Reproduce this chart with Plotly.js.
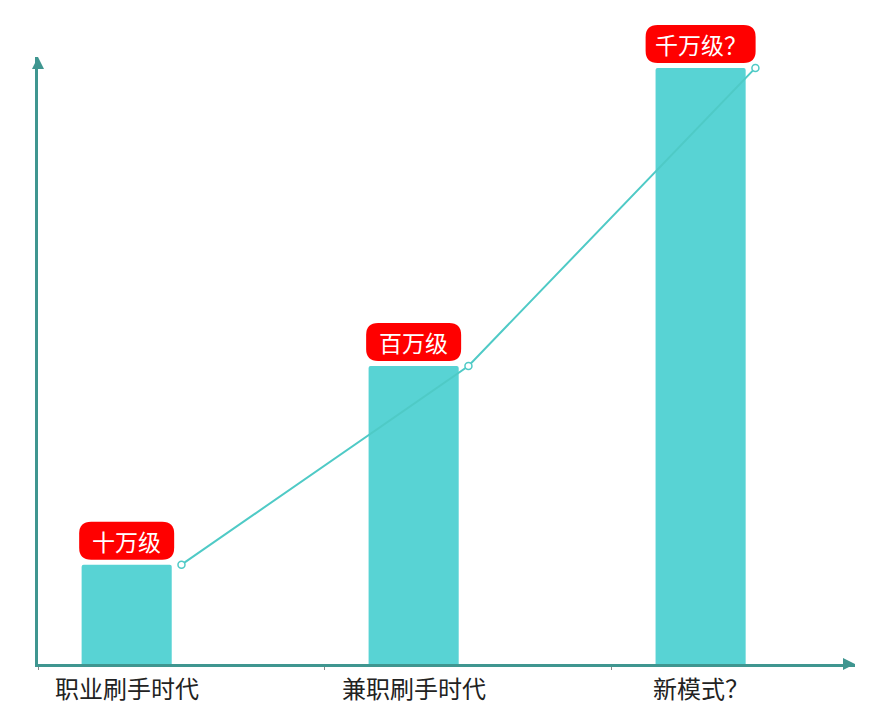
<!DOCTYPE html>
<html lang="zh">
<head>
    <meta charset="UTF-8">
    <title>刷手规模</title>
    <script src="https://cdn.plot.ly/plotly-3.0.1.min.js"></script>
    <style>
        body { margin: 0; background: #ffffff; }
        #chart { width: 870px; height: 721px; }
    </style>
</head>
<body>
    <div id="chart"></div>
    <script>
        const categories = ['职业刷手时代', '兼职刷手时代', '新模式？'];
        const values = [10, 30, 60];
        const levelLabels = ['十万级', '百万级', '千万级？'];

        const axisColor = '#3f9690';
        const barColor = '#58d3d4';
        const lineColor = '#4fcac6';
        const cjk = '"Noto Sans CJK SC", "Microsoft YaHei", sans-serif';
        const yMax = 61.1;

        // bar sits left of the category centre, line point at the centre
        const barWidth = 0.314;
        const barOffset = -0.348;
        const barCentre = barOffset + barWidth / 2;

        const bars = {
            type: 'bar',
            x: categories,
            y: values,
            width: barWidth,
            offset: barOffset,
            marker: { color: barColor, cornerradius: 2 },
            hoverinfo: 'skip',
            showlegend: false
        };

        const line = {
            type: 'scatter',
            mode: 'lines+markers',
            x: categories,
            y: values,
            line: { color: lineColor, width: 2 },
            marker: { size: 7, color: '#ffffff', line: { color: lineColor, width: 1.5 } },
            hoverinfo: 'skip',
            showlegend: false
        };

        function roundedBox(w, y0, h, r) {
            const l = -w / 2, rt = w / 2, y1 = y0 + h;
            return `M${l + r},${y0} L${rt - r},${y0} Q${rt},${y0} ${rt},${y0 + r} ` +
                `L${rt},${y1 - r} Q${rt},${y1} ${rt - r},${y1} L${l + r},${y1} ` +
                `Q${l},${y1} ${l},${y1 - r} L${l},${y0 + r} Q${l},${y0} ${l + r},${y0} Z`;
        }

        const shapes = [];
        const annotations = [];

        values.forEach((v, i) => {
            const w = 50 + 15 * levelLabels[i].length;
            // paper y so the box is not clipped at the top of the plot
            shapes.push({
                type: 'path', layer: 'above',
                xref: 'x', yref: 'paper',
                xsizemode: 'pixel', ysizemode: 'pixel',
                xanchor: i + barCentre, yanchor: v / yMax,
                path: roundedBox(w, 5, 38, 12),
                fillcolor: '#ff0000', line: { width: 0 }
            });
            annotations.push({
                x: i + barCentre, y: v / yMax, xref: 'x', yref: 'paper',
                text: levelLabels[i], showarrow: false,
                yanchor: 'middle', yshift: 24,
                font: { family: cjk, size: 23, color: '#ffffff' }
            });
            annotations.push({
                x: i + barCentre, y: 0, xref: 'x', yref: 'paper',
                text: categories[i], showarrow: false,
                yanchor: 'middle', yshift: -23,
                font: { family: cjk, size: 24, color: '#222222' }
            });
        });

        // arrow heads on the axes
        shapes.push({
            type: 'path', layer: 'above', xref: 'paper', yref: 'paper',
            xsizemode: 'pixel', ysizemode: 'pixel', xanchor: 0, yanchor: 1,
            path: 'M-6,-12 L0,0 L6,-12 Z',
            fillcolor: axisColor, line: { width: 0 }
        });
        shapes.push({
            type: 'path', layer: 'above', xref: 'paper', yref: 'paper',
            xsizemode: 'pixel', ysizemode: 'pixel', xanchor: 1, yanchor: 0,
            path: 'M-12,-6 L0,0 L-12,6 Z',
            fillcolor: axisColor, line: { width: 0 }
        });

        const layout = {
            width: 870,
            height: 721,
            margin: { l: 38, r: 15, t: 57, b: 57 },
            paper_bgcolor: '#ffffff',
            plot_bgcolor: '#ffffff',
            xaxis: {
                type: 'category',
                range: [-0.5, 2.347],
                showline: true, linecolor: axisColor, linewidth: 3,
                showgrid: false, zeroline: false,
                tickson: 'boundaries', ticks: 'outside', ticklen: 3,
                tickcolor: '#888888', tickwidth: 1,
                showticklabels: false,
                fixedrange: true
            },
            yaxis: {
                range: [0, yMax],
                showline: true, linecolor: axisColor, linewidth: 3,
                showgrid: false, zeroline: false,
                ticks: '', showticklabels: false,
                fixedrange: true
            },
            shapes: shapes,
            annotations: annotations,
            showlegend: false
        };

        Plotly.newPlot('chart', [bars, line], layout, { displayModeBar: false, staticPlot: true });
    </script>
</body>
</html>
